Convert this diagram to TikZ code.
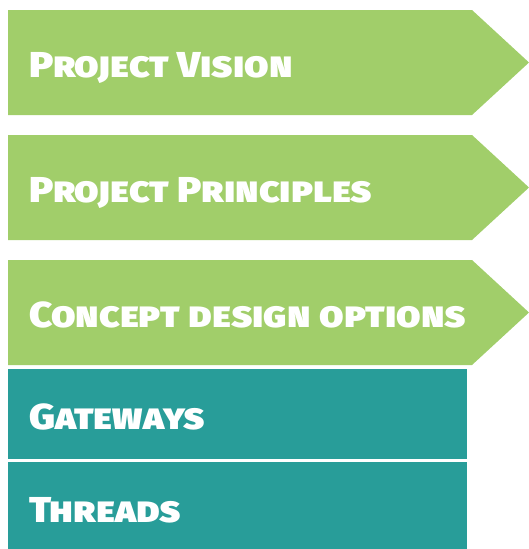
\documentclass[tikz,border=0pt]{standalone}
\usepackage{fontspec}
\setmainfont{Fira Sans}[BoldFont={Fira Sans Black}, BoldFeatures={FakeStretch=1.11}]
\usepackage{tikz}
\definecolor{stagegreen}{RGB}{161,206,106}
\definecolor{blockteal}{RGB}{40,157,153}

\begin{document}
\begin{tikzpicture}[x=1pt, y=-1pt,
  bandtext/.style={anchor=base west, inner sep=0pt, text=white,
    font=\fontsize{36}{36}\selectfont\bfseries\scshape}]
  \useasboundingbox (0,0) rectangle (529,549);
  % green stages
  \foreach \t in {10,135,260}
    \fill [stagegreen] (8,\t) -- (472,\t) -- (529,\t+52.5) -- (472,\t+105) -- (8,\t+105) -- cycle;
  % teal blocks
  \fill [blockteal] (8,369) rectangle (467,459);
  \fill [blockteal] (8,462) rectangle (467,549);
  \node [bandtext] (vision) at (29,77) {Project Vision};
  \node [bandtext] (principles) at (29,202) {Project Principles};
  \node [bandtext] (concept) at (29,327) {Concept design options};
  \node [bandtext] (gateways) at (29,429) {Gateways};
  \node [bandtext] (threads) at (29,522) {Threads};
\end{tikzpicture}
\end{document}
